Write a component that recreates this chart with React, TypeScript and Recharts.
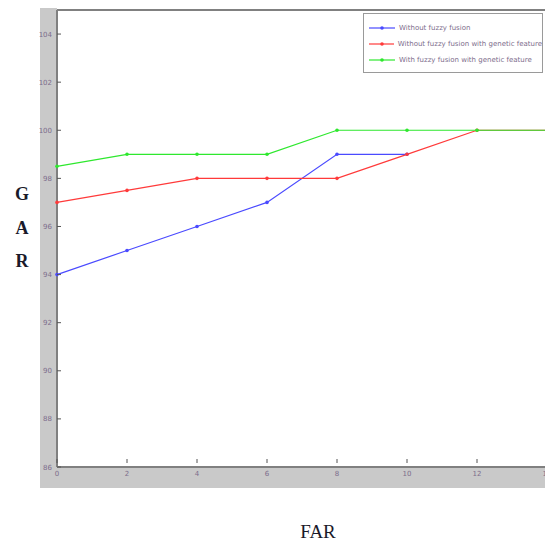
import React from "react";
import { LineChart, Line, XAxis, YAxis, ReferenceLine } from "recharts";

const farTicks = [0, 2, 4, 6, 8, 10, 12, 14];
const garTicks = [86, 88, 90, 92, 94, 96, 98, 100, 102, 104];

const farValues = [0, 2, 4, 6, 8, 10, 12, 14];
const withoutFuzzy = [94, 95, 96, 97, 99, 99, null, null];
const withoutFuzzyGenetic = [97, 97.5, 98, 98, 98, 99, 100, 100];
const withFuzzyGenetic = [98.5, 99, 99, 99, 100, 100, 100, 100];

const seriesNames = [
  "Without fuzzy fusion",
  "Without fuzzy fusion with genetic feature",
  "With fuzzy fusion with genetic feature",
];
const seriesColors = ["#4a4aff", "#ff3a3a", "#2ee82e"];

const data = farValues.map((far, i) => ({
  far,
  a: withoutFuzzy[i],
  b: withoutFuzzyGenetic[i],
  c: withFuzzyGenetic[i],
}));

const tickColor = "#7d6d8c";
const axisColor = "#808080";

function YTick(props: any) {
  const { x, y, payload } = props;
  return (
    <g>
      <line x1={x + 4} x2={x + 8} y1={y} y2={y} stroke="#555" strokeWidth={1} />
      <text x={x - 1} y={y + 2.5} textAnchor="end" fontSize={7} fill={tickColor} fontFamily="DejaVu Sans">
        {payload.value}
      </text>
    </g>
  );
}

function XTick(props: any) {
  const { x, y, payload } = props;
  return (
    <g>
      <line x1={x} x2={x} y1={y - 4} y2={y - 8} stroke="#555" strokeWidth={1} />
      <text x={x} y={y + 9} textAnchor="middle" fontSize={7} fill={tickColor} fontFamily="DejaVu Sans">
        {payload.value}
      </text>
    </g>
  );
}

function LegendBox() {
  return (
    <div
      style={{
        position: "absolute",
        left: 363,
        top: 13,
        border: "1px solid #9a9a9a",
        background: "#fff",
        width: 180,
        padding: "6px 0 4px 5px",
        boxSizing: "border-box",
      }}
    >
      {seriesNames.map((name, i) => (
        <div key={name} style={{ display: "flex", alignItems: "center", height: 16 }}>
          <svg width={26} height={8}>
            <line x1={0} x2={26} y1={4} y2={4} stroke={seriesColors[i]} strokeWidth={1.2} />
            <circle cx={13} cy={4} r={1.8} fill={seriesColors[i]} />
          </svg>
          <span
            style={{
              marginLeft: 4,
              fontSize: 7,
              color: tickColor,
              fontFamily: "DejaVu Sans",
              whiteSpace: "nowrap",
            }}
          >
            {name}
          </span>
        </div>
      ))}
    </div>
  );
}

export default function App() {
  const serif = "'Liberation Serif', 'DejaVu Serif', serif";
  return (
    <div
      style={{
        position: "fixed",
        left: 0,
        top: 0,
        width: 545,
        height: 546,
        overflow: "hidden",
        background: "#fff",
      }}
    >
      {/* grey figure strips behind the axes */}
      <div style={{ position: "absolute", left: 40, top: 8, width: 17, height: 480, background: "#c9c9c9" }} />
      <div style={{ position: "absolute", left: 40, top: 467, width: 520, height: 21, background: "#c9c9c9" }} />

      <div style={{ position: "absolute", left: 0, top: 0 }}>
        <LineChart
          width={560}
          height={500}
          data={data}
          margin={{ top: 10, right: 13, bottom: 0, left: 40 }}
        >
          <XAxis
            dataKey="far"
            type="number"
            domain={[0, 14]}
            ticks={farTicks}
            axisLine={{ stroke: axisColor, strokeWidth: 2 }}
            tickLine={false}
            tickSize={0}
            tickMargin={0}
            tick={<XTick />}
            height={33}
            interval={0}
          />
          <YAxis
            type="number"
            domain={[86, 105]}
            ticks={garTicks}
            axisLine={{ stroke: axisColor, strokeWidth: 2 }}
            tickLine={false}
            tickSize={0}
            tickMargin={4}
            tick={<YTick />}
            width={17}
            interval={0}
          />
          <ReferenceLine y={105} stroke={axisColor} strokeWidth={2} />
          <Line
            dataKey="a"
            name={seriesNames[0]}
            stroke={seriesColors[0]}
            strokeWidth={1.2}
            dot={{ r: 1.8, fill: seriesColors[0], stroke: "none" }}
            isAnimationActive={false}
          />
          <Line
            dataKey="b"
            name={seriesNames[1]}
            stroke={seriesColors[1]}
            strokeWidth={1.2}
            dot={{ r: 1.8, fill: seriesColors[1], stroke: "none" }}
            isAnimationActive={false}
          />
          <Line
            dataKey="c"
            name={seriesNames[2]}
            stroke={seriesColors[2]}
            strokeWidth={1.2}
            dot={{ r: 1.8, fill: seriesColors[2], stroke: "none" }}
            isAnimationActive={false}
          />
        </LineChart>
      </div>

      <LegendBox />

      {["G", "A", "R"].map((ch, i) => (
        <div
          key={ch}
          style={{
            position: "absolute",
            left: 12,
            top: 183 + i * 33.5,
            width: 20,
            textAlign: "center",
            fontFamily: serif,
            fontWeight: "bold",
            fontSize: 18,
            lineHeight: "22px",
            color: "#1a1a2a",
          }}
        >
          {ch}
        </div>
      ))}
      <div
        style={{
          position: "absolute",
          left: 288,
          top: 520,
          width: 60,
          textAlign: "center",
          fontFamily: serif,
          fontSize: 19,
          lineHeight: "24px",
          color: "#1a1a2a",
        }}
      >
        FAR
      </div>
    </div>
  );
}
